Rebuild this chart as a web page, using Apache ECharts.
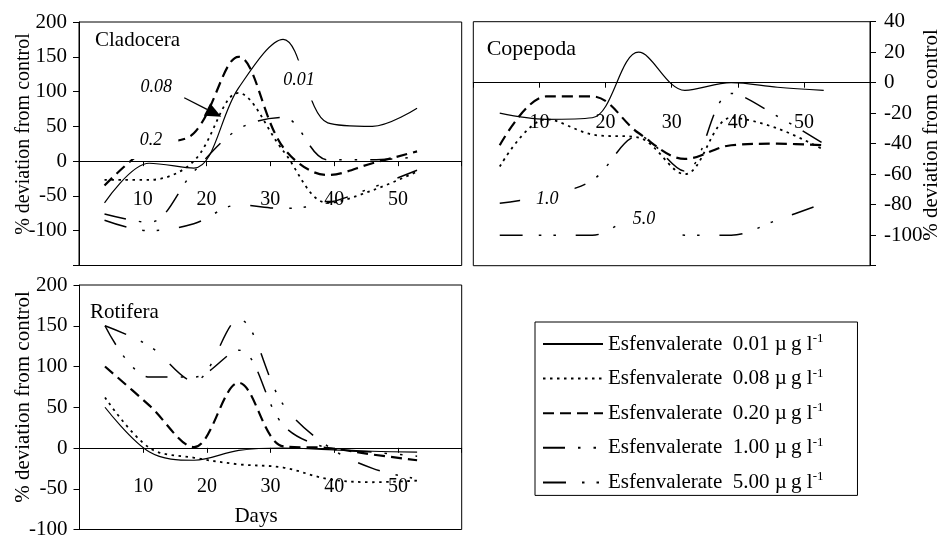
<!DOCTYPE html>
<html>
<head>
<meta charset="utf-8">
<script src="https://cdn.jsdelivr.net/npm/echarts@6/dist/echarts.min.js"></script>
<style>
  html, body { margin: 0; padding: 0; background: #fff; }
  #chart { width: 942px; height: 540px; }
</style>
</head>
<body>
<div id="chart"></div>
<script>
// Weekly sampling days shared by every series
const days = [4, 11, 18, 25, 32, 39, 46, 53];

// Esfenvalerate concentrations (µg/l)
const concentrations = ['0.01', '0.08', '0.20', '1.00', '5.00'];

// Cladocera: % deviation from control
const cladocera001 = [-60, -3, -10, 105, 175, 55, 50, 76];
const cladocera008 = [-27, -27, 0, 98, 15, -60, -42, -15];
const cladocera020 = [-35, 20, 40, 150, 20, -20, -3, 14];
const cladocera100 = [-76, -88, -15, 46, 63, 2, 2, 6];
const cladocera500 = [-85, -100, -90, -63, -68, -60, -38, -13];

// Copepoda: % deviation from control
const copepoda001 = [-20, -24, -23, 20, -5, 0, -3, -5];
const copepoda008 = [-55, -24, -34, -36, -60, -23, -30, -44];
const copepoda020 = [-41, -9, -9, -33, -50, -41, -40, -41];
const copepoda100 = [-79, -74, -64, -35, -58, -7, -22, -40];
const copepoda500 = [-100, -100, -100, -88, -100, -100, -90, -79];

// Rotifera: % deviation from control
const rotifera001 = [50, -5, -15, -3, 0, -2, -4, -5];
const rotifera008 = [62, 0, -12, -20, -24, -38, -42, -40];
const rotifera020 = [100, 52, 1, 80, 2, 0, -8, -15];
const rotifera100 = [150, 87, 87, 120, 28, 0, -5, -10];
const rotifera500 = [150, 125, 82, 158, 53, 2, -25, -38];

const panelNames = ['Cladocera', 'Copepoda', 'Rotifera'];
const panelValues = [
  [cladocera001, cladocera008, cladocera020, cladocera100, cladocera500],
  [copepoda001, copepoda008, copepoda020, copepoda100, copepoda500],
  [rotifera001, rotifera008, rotifera020, rotifera100, rotifera500]
];

// Axis ranges per panel
const yMin = [-150, -120, -100];
const yMax = [200, 40, 200];
const yStep = [50, 20, 50];
const xMin = 0, xMax = 60, xStep = 10;

const serif = 'Liberation Serif';

// One dash pattern per concentration
const concStyles = [
  { width: 1.2, type: 'solid' },
  { width: 1.8, type: [2.5, 4.5] },
  { width: 2.2, type: [11, 6] },
  { width: 1.5, type: [22, 13, 2.5, 13, 2.5, 13] },
  { width: 1.5, type: [23, 16, 2.5, 12, 2.5, 20] }
];

const grids = [
  { left: 79, top: 22, width: 382.7, height: 243.5 },
  { left: 473.3, top: 21.7, width: 396.7, height: 244 },
  { left: 79.5, top: 285, width: 382.2, height: 245 }
].map(g => Object.assign(g, { show: true, borderColor: '#000', borderWidth: 1, backgroundColor: 'transparent' }));

// The day axis runs along the zero line of each panel
const xAxes = [0, 1, 2].map(i => ({
  gridIndex: i,
  type: 'value',
  position: 'bottom',
  offset: -grids[i].height * (0 - yMin[i]) / (yMax[i] - yMin[i]),
  min: xMin,
  max: xMax,
  interval: xStep,
  axisLine: { show: true, onZero: false, lineStyle: { color: '#000', width: 1 } },
  axisTick: { show: true, length: 5, lineStyle: { color: '#000' } },
  axisLabel: {
    margin: i === 1 ? 30 : 29,
    fontFamily: serif, fontSize: 20, color: '#000',
    formatter: v => (v > xMin && v < xMax) ? String(v) : ''
  },
  splitLine: { show: false }
}));

const yAxes = [0, 1, 2].map(i => ({
  gridIndex: i,
  type: 'value',
  position: i === 1 ? 'right' : 'left',
  min: yMin[i],
  max: yMax[i],
  interval: yStep[i],
  axisLine: { show: true, onZero: false, lineStyle: { color: '#000', width: 1 } },
  axisTick: { show: true, length: 6, lineStyle: { color: '#000' } },
  axisLabel: {
    margin: i === 1 ? 14 : 12,
    fontFamily: serif, fontSize: 21, color: '#000',
    formatter: v => (i !== 2 && v === yMin[i]) ? '' : String(v)
  },
  splitLine: { show: false }
}));

const series = [];
panelValues.forEach((set, p) => {
  set.forEach((vals, k) => {
    series.push({
      type: 'line',
      name: concentrations[k],
      xAxisIndex: p,
      yAxisIndex: p,
      data: days.map((d, i) => [d, vals[i]]),
      smooth: 0.35,
      symbol: 'none',
      silent: true,
      color: '#000',
      itemStyle: { color: '#000' },
      lineStyle: { color: '#000', width: concStyles[k].width, type: concStyles[k].type }
    });
  });
});

const chart = echarts.init(document.getElementById('chart'));

chart.setOption({
  animation: false,
  backgroundColor: '#fff',
  grid: grids,
  xAxis: xAxes,
  yAxis: yAxes,
  legend: {
    orient: 'vertical',
    left: 535,
    top: 322,
    data: concentrations,
    selectedMode: false,
    itemWidth: 60,
    itemHeight: 14,
    itemGap: 10.6,
    padding: [10, 34, 1, 7],
    borderColor: '#000',
    borderWidth: 1,
    backgroundColor: '#fff',
    itemStyle: { opacity: 0 },
    textStyle: {
      fontFamily: serif, fontSize: 21, color: '#000', lineHeight: 24,
      rich: { sup: { fontFamily: serif, fontSize: 13, color: '#000', lineHeight: 12, verticalAlign: 'top' } }
    },
    formatter: name => 'Esfenvalerate\u00a0\u00a0' + name + ' \u00b5\u2009g l{sup|-1}'
  },
  series: series
});

// Curve labels sitting on white boxes, placed in data coordinates
const annotations = [
  { grid: 0, text: '0.08', day: 12.1, value: 106.5, pad: [3, 3] },
  { grid: 0, text: '0.2', day: 11.3, value: 30.4, pad: [10, 16] },
  { grid: 0, text: '0.01', day: 34.5, value: 116, pad: [11, 13] },
  { grid: 1, text: '1.0', day: 11.2, value: -76.7, pad: [7, 16] },
  { grid: 1, text: '5.0', day: 25.8, value: -89.4, pad: [7, 16] }
];
// Arrow from the 0.08 label to its curve
const arrow = { grid: 0, from: [14.55, 100.4], to: [22.3, 63.8] };

const graphics = [];

annotations.forEach(a => {
  const [x, y] = chart.convertToPixel({ gridIndex: a.grid }, [a.day, a.value]);
  graphics.push({
    type: 'text', z: 100, x: x, y: y,
    style: {
      text: a.text, fontFamily: serif, fontSize: 18, fontStyle: 'italic', fill: '#000',
      align: 'center', verticalAlign: 'middle', backgroundColor: '#fff', padding: a.pad
    }
  });
});

(function () {
  const p0 = chart.convertToPixel({ gridIndex: arrow.grid }, arrow.from);
  const p1 = chart.convertToPixel({ gridIndex: arrow.grid }, arrow.to);
  const dx = p1[0] - p0[0], dy = p1[1] - p0[1];
  const len = Math.sqrt(dx * dx + dy * dy);
  const ux = dx / len, uy = dy / len;
  const headLen = 16, headHalf = 7;
  const bx = p1[0] - ux * headLen, by = p1[1] - uy * headLen;
  graphics.push({
    type: 'line', z: 101,
    shape: { x1: p0[0] + ux * 14, y1: p0[1] + uy * 14, x2: bx, y2: by },
    style: { stroke: '#000', lineWidth: 1.3 }
  });
  graphics.push({
    type: 'polygon', z: 101,
    shape: { points: [[p1[0], p1[1]], [bx - uy * headHalf, by + ux * headHalf], [bx + uy * headHalf, by - ux * headHalf]] },
    style: { fill: '#000' }
  });
})();

// Panel titles
[[95, 40.8, 21], [486.7, 49.2, 22], [90, 312, 21]].forEach((t, i) => {
  graphics.push({
    type: 'text', z: 100, x: t[0], y: t[1],
    style: { text: panelNames[i], fontFamily: serif, fontSize: t[2], fill: '#000', align: 'left', verticalAlign: 'middle' }
  });
});

// Rotated value-axis titles
[[24, 134, 20], [931, 135, 21], [23, 397, 21]].forEach(t => {
  graphics.push({
    type: 'text', z: 100, x: t[0], y: t[1], rotation: Math.PI / 2,
    style: { text: '% deviation from control', fontFamily: serif, fontSize: t[2], fill: '#000', align: 'center', verticalAlign: 'middle' }
  });
});

// Time-axis title
graphics.push({
  type: 'text', z: 100, x: 256, y: 516,
  style: { text: 'Days', fontFamily: serif, fontSize: 21, fill: '#000', align: 'center', verticalAlign: 'middle' }
});

chart.setOption({ graphic: graphics });
</script>
</body>
</html>
